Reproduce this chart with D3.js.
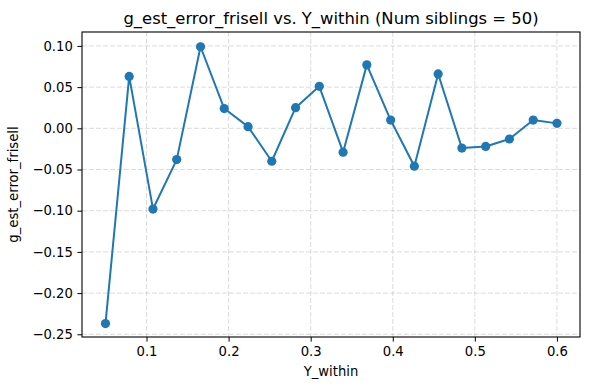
<!DOCTYPE html>
<html>
<head>
<meta charset="utf-8">
<script src="https://cdn.jsdelivr.net/npm/d3@7"></script>
<style>
  body { margin: 0; background: #fff; }
  svg { display: block; font-family: 'DejaVu Sans', sans-serif; }
  .tick text { font-size: 13.2px; fill: #000; }
  .grid line { stroke: #b0b0b0; stroke-opacity: 0.45; stroke-dasharray: 4.9,2.1; }
</style>
</head>
<body>
<svg width="590" height="390"></svg>
<script>
(function (d3) {
  'use strict';

  const yWithin = [0.05, 0.0789, 0.1079, 0.1368, 0.1658, 0.1947, 0.2237, 0.2526, 0.2816, 0.3105,
    0.3395, 0.3684, 0.3974, 0.4263, 0.4553, 0.4842, 0.5132, 0.5421, 0.5711, 0.6];
  const gEstError = [-0.237, 0.063, -0.098, -0.038, 0.099, 0.024, 0.002, -0.040, 0.025, 0.051,
    -0.029, 0.077, 0.010, -0.046, 0.066, -0.024, -0.022, -0.013, 0.010, 0.006];
  const xTicks = [0.1, 0.2, 0.3, 0.4, 0.5, 0.6];
  const yTicks = [0.10, 0.05, 0.00, -0.05, -0.10, -0.15, -0.20, -0.25];

  const data = yWithin.map((x, i) => ({ x: x, y: gEstError[i] }));

  const svg = d3.select('svg');
  const margin = { top: 32, right: 10, bottom: 53, left: 82 };
  const width = +svg.attr('width');
  const height = +svg.attr('height');
  const innerWidth = width - margin.left - margin.right;
  const innerHeight = height - margin.top - margin.bottom;
  const color = '#1f77b4';

  const xScale = d3.scaleLinear()
    .domain([0.0214, 0.6281])
    .range([0, innerWidth]);

  const yScale = d3.scaleLinear()
    .domain([-0.2533, 0.1169])
    .range([innerHeight, 0]);

  const fmtMinus = f => v => f(v).replace('-', '\u2212');

  const g = svg.append('g')
    .attr('transform', `translate(${margin.left},${margin.top})`);

  // grid
  g.append('g').attr('class', 'grid')
    .selectAll('line').data(xTicks).enter().append('line')
      .attr('x1', d => xScale(d)).attr('x2', d => xScale(d))
      .attr('y1', 0).attr('y2', innerHeight);
  g.append('g').attr('class', 'grid')
    .selectAll('line').data(yTicks).enter().append('line')
      .attr('y1', d => yScale(d)).attr('y2', d => yScale(d))
      .attr('x1', 0).attr('x2', innerWidth);

  const xAxisG = g.append('g')
    .attr('transform', `translate(0,${innerHeight})`)
    .call(d3.axisBottom(xScale).tickValues(xTicks).tickFormat(d3.format('.1f'))
      .tickSize(4.6).tickPadding(4.6));

  const yAxisG = g.append('g')
    .call(d3.axisLeft(yScale).tickValues(yTicks).tickFormat(fmtMinus(d3.format('.2f')))
      .tickSize(4.6).tickPadding(4.6));

  [xAxisG, yAxisG].forEach(a => {
    a.selectAll('.domain').remove();
    a.selectAll('.tick line').attr('stroke', '#000').attr('stroke-width', 1);
    a.selectAll('text').attr('font-family', "'DejaVu Sans', sans-serif");
  });

  // frame
  g.append('rect')
    .attr('width', innerWidth).attr('height', innerHeight)
    .attr('fill', 'none').attr('stroke', '#000').attr('stroke-width', 1.1);

  const line = d3.line()
    .x(d => xScale(d.x))
    .y(d => yScale(d.y));

  g.append('path')
    .datum(data)
    .attr('fill', 'none')
    .attr('stroke', color)
    .attr('stroke-width', 2)
    .attr('stroke-linejoin', 'round')
    .attr('d', line);

  g.selectAll('circle.pt').data(data)
    .enter().append('circle')
      .attr('class', 'pt')
      .attr('cx', d => xScale(d.x))
      .attr('cy', d => yScale(d.y))
      .attr('r', 4.6)
      .attr('fill', color);

  // labels
  g.append('text')
    .attr('x', innerWidth / 2)
    .attr('y', 346 - margin.top + 30)
    .attr('text-anchor', 'middle')
    .attr('font-size', '13.2px')
    .text('Y_within');

  g.append('text')
    .attr('transform', 'rotate(-90)')
    .attr('x', -innerHeight / 2)
    .attr('y', -64)
    .attr('text-anchor', 'middle')
    .attr('font-size', '13.2px')
    .text('g_est_error_frisell');

  g.append('text')
    .attr('x', innerWidth / 2)
    .attr('y', -8)
    .attr('text-anchor', 'middle')
    .attr('font-size', '16.4px')
    .text('g_est_error_frisell vs. Y_within (Num siblings = 50)');
}(d3));
</script>
</body>
</html>
